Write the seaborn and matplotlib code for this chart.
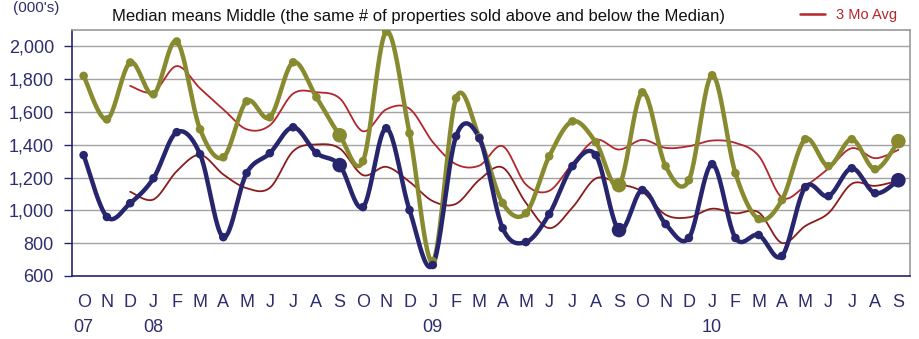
import numpy as np
import pandas as pd
import matplotlib
matplotlib.use("Agg")
import matplotlib.pyplot as plt
import seaborn as sns
from matplotlib.lines import Line2D

# ---------------- data ----------------
month_letters = ['O', 'N', 'D', 'J', 'F', 'M', 'A', 'M', 'J', 'J', 'A', 'S'] * 3
year_labels = {0: '07', 3: '08', 15: '09', 27: '10'}
olive_vals = [1820, 1555, 1902, 1708, 2030, 1495, 1324, 1665, 1568, 1903, 1690, 1458,
              1300, 2090, 1470, 690, 1684, 1446, 1045, 983, 1330, 1543, 1416, 1154,
              1720, 1270, 1184, 1824, 1227, 947, 1063, 1434, 1270, 1434, 1251, 1422]
navy_vals = [1337, 960, 1044, 1196, 1477, 1343, 837, 1227, 1349, 1507, 1350, 1276,
             1020, 1501, 1002, 667, 1452, 1440, 892, 807, 977, 1270, 1337, 880,
             1124, 917, 832, 1282, 832, 850, 722, 1142, 1087, 1257, 1105, 1184]
big_marker_idx = [11, 23, 35]

OLIVE = "#878A2F"
NAVY = "#26256D"
AVG_UP = "#B3262B"
AVG_LO = "#8C1C1C"
TXT_NAVY = "#2E2D6E"

x = np.arange(len(olive_vals))
df = pd.DataFrame({"x": x, "olive": olive_vals, "navy": navy_vals})
df["olive_avg"] = df["olive"].rolling(3).mean()
df["navy_avg"] = df["navy"].rolling(3).mean()


def smooth(xs, ys, n=24):
    """Excel-style smoothed line (cubic Bezier through the points)."""
    P = np.column_stack([xs, ys]).astype(float)
    out = []
    m = len(P)
    t = np.linspace(0, 1, n, endpoint=False)[:, None]
    for i in range(m - 1):
        p0 = P[i - 1] if i > 0 else P[i]
        p3 = P[i + 2] if i + 2 < m else P[i + 1]
        c1 = P[i] + (P[i + 1] - p0) / 6.0
        c2 = P[i + 1] - (p3 - P[i]) / 6.0
        seg = ((1 - t) ** 3) * P[i] + 3 * ((1 - t) ** 2) * t * c1 + 3 * (1 - t) * t ** 2 * c2 + t ** 3 * P[i + 1]
        out.append(seg)
    out.append(P[-1][None, :])
    out = np.vstack(out)
    return out[:, 0], out[:, 1]


def curve_frame(col, name):
    d = df[["x", col]].dropna()
    sx, sy = smooth(d["x"].values, d[col].values)
    return pd.DataFrame({"x": sx, "y": sy, "series": name})


sns.set_theme(style="white")
plt.rcParams["font.family"] = ["Liberation Sans", "DejaVu Sans"]

fig = plt.figure(figsize=(9.19, 3.39), dpi=100)
ax = fig.add_axes([72 / 919, 1 - 276 / 339, (910 - 72) / 919, (276 - 30) / 339])

# grid
for v in range(600, 2101, 200):
    ax.axhline(v, color="#A3A3A3", lw=1.0, zorder=0)

# 3-month averages
avg = pd.concat([curve_frame("olive_avg", "oa"), curve_frame("navy_avg", "na")])
sns.lineplot(data=avg, x="x", y="y", hue="series", palette={"oa": AVG_UP, "na": AVG_LO},
             sort=False, estimator=None, lw=1.3, legend=False, ax=ax, zorder=2)

# main series
main = pd.concat([curve_frame("olive", "o"), curve_frame("navy", "n")])
sns.lineplot(data=main, x="x", y="y", hue="series", palette={"o": OLIVE, "n": NAVY},
             sort=False, estimator=None, lw=3.2, legend=False, ax=ax, zorder=3)

sizes = np.where(np.isin(x, big_marker_idx), 110, 38)
sns.scatterplot(x=x, y=df["olive"], s=sizes, color=OLIVE, edgecolor="none", ax=ax, zorder=4, legend=False)
sns.scatterplot(x=x, y=df["navy"], s=sizes, color=NAVY, edgecolor="none", ax=ax, zorder=4, legend=False)

ax.set_xlim(-0.5, len(x) - 0.5)
ax.set_ylim(600, 2100)
ax.set_xlabel("")
ax.set_ylabel("")

ax.set_yticks(range(600, 2001, 200))
ax.set_yticklabels([f"{v:,}" for v in range(600, 2001, 200)], color=TXT_NAVY, fontsize=13)
ax.set_xticks(x)
ax.set_xticklabels([m + ("\n" + year_labels[i] if i in year_labels else "") for i, m in enumerate(month_letters)],
                   color=TXT_NAVY, fontsize=13, linespacing=1.6)
ax.set_xticks(np.arange(-0.5, len(x), 1), minor=True)
ax.tick_params(axis="x", which="major", length=0, pad=13)
ax.tick_params(axis="x", which="minor", length=5, direction="out", color=NAVY, width=1)
ax.tick_params(axis="y", which="major", length=6, direction="out", color=NAVY, width=1, pad=7, left=True)

for s in ["top", "right"]:
    ax.spines[s].set_color("#9A9A9A")
    ax.spines[s].set_linewidth(1.2)
for s in ["left", "bottom"]:
    ax.spines[s].set_color(NAVY)
    ax.spines[s].set_linewidth(1.2)

fig.text(419 / 919, 1 - 17 / 339,
         "Median means Middle (the same # of properties sold above and below the Median)",
         ha="center", va="center", fontsize=12, color="#111111")
fig.text(36 / 919, 1 - 8 / 339, "(000's)", ha="center", va="center", fontsize=11, color=TXT_NAVY)

handle = Line2D([0], [0], color=AVG_UP, lw=1.8)
fig.legend([handle], ["3 Mo Avg"], loc="center left", bbox_to_anchor=(800 / 919, 1 - 15 / 339),
           frameon=False, fontsize=10.5, labelcolor=AVG_UP, handlelength=1.7, handletextpad=0.8,
           borderpad=0, borderaxespad=0)

fig.savefig("out.png", dpi=100)
